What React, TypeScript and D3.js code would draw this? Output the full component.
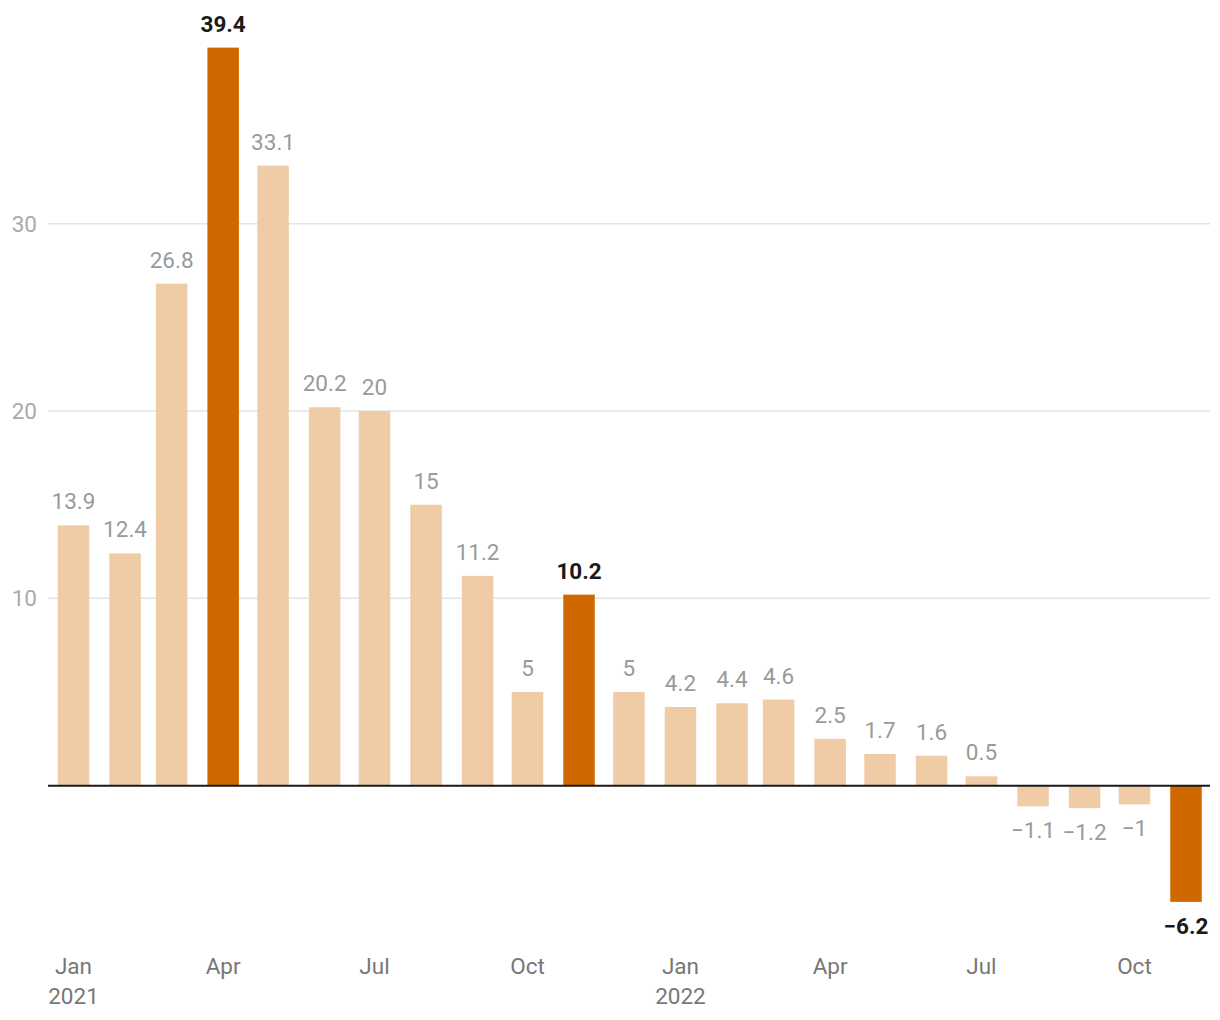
import React from "react";
import * as d3 from "d3";

const months: string[] = [
  "2021-01", "2021-02", "2021-03", "2021-04", "2021-05", "2021-06", "2021-07", "2021-08",
  "2021-09", "2021-10", "2021-11", "2021-12", "2022-01", "2022-02", "2022-03", "2022-04",
  "2022-05", "2022-06", "2022-07", "2022-08", "2022-09", "2022-10", "2022-11",
];
const values: number[] = [
  13.9, 12.4, 26.8, 39.4, 33.1, 20.2, 20, 15, 11.2, 5, 10.2, 5, 4.2, 4.4, 4.6, 2.5, 1.7, 1.6, 0.5,
  -1.1, -1.2, -1, -6.2,
];
const highlighted: string[] = ["2021-04", "2021-11", "2022-11"];
const yTicks: number[] = [10, 20, 30];

const W = 1220;
const H = 1020;
const parse = d3.timeParse("%Y-%m");

export default function App() {
  const dates = months.map((m) => parse(m) as Date);
  const x = d3
    .scaleTime()
    .domain([dates[0], dates[dates.length - 1]])
    .range([73.5, 1186]);
  const y = d3.scaleLinear().domain([0, 30]).range([785.7, 223.7]);
  const bw = 31.5;
  const fmt = (v: number) => String(v).replace("-", "\u2212");
  const xTicks = d3.timeMonth.every(3)!.range(dates[0], d3.timeMonth.offset(dates[dates.length - 1], 1));
  const monthFmt = d3.timeFormat("%b");
  const font = "Roboto, 'Noto Sans', sans-serif";

  return (
    <svg width={W} height={H} style={{ position: "absolute", left: 0, top: 0, background: "#fff" }} fontFamily={font}>
      {yTicks.map((t) => (
        <g key={t}>
          <line x1={48} x2={1210} y1={y(t)} y2={y(t)} stroke="#e4e4e4" strokeWidth={1.5} />
          <text x={37} y={y(t)} dy="0.35em" textAnchor="end" fontSize={22.5} fill="#aaaaaa">
            {t}
          </text>
        </g>
      ))}
      {dates.map((d, i) => {
        const v = values[i];
        const hi = highlighted.includes(months[i]);
        const top = y(Math.max(0, v));
        const bottom = y(Math.min(0, v));
        return (
          <g key={months[i]}>
            <rect
              x={x(d) - bw / 2}
              y={top}
              width={bw}
              height={bottom - top}
              fill={hi ? "#d06800" : "#efcca6"}
            />
            <text
              x={x(d)}
              y={v >= 0 ? top - 16 : bottom + 32}
              textAnchor="middle"
              fontSize={22.5}
              fontWeight={hi ? 700 : 400}
              fill={hi ? "#1a1a1a" : "#9a9a9a"}
            >
              {fmt(v)}
            </text>
          </g>
        );
      })}
      <line x1={48} x2={1210} y1={y(0)} y2={y(0)} stroke="#1a1a1a" strokeWidth={2} />
      {xTicks.map((d) => (
        <text key={d.toISOString()} x={x(d)} y={974} textAnchor="middle" fontSize={22.5} fill="#777777">
          <tspan x={x(d)}>{monthFmt(d)}</tspan>
          {d.getMonth() === 0 ? (
            <tspan x={x(d)} dy={30}>
              {d.getFullYear()}
            </tspan>
          ) : null}
        </text>
      ))}
    </svg>
  );
}
